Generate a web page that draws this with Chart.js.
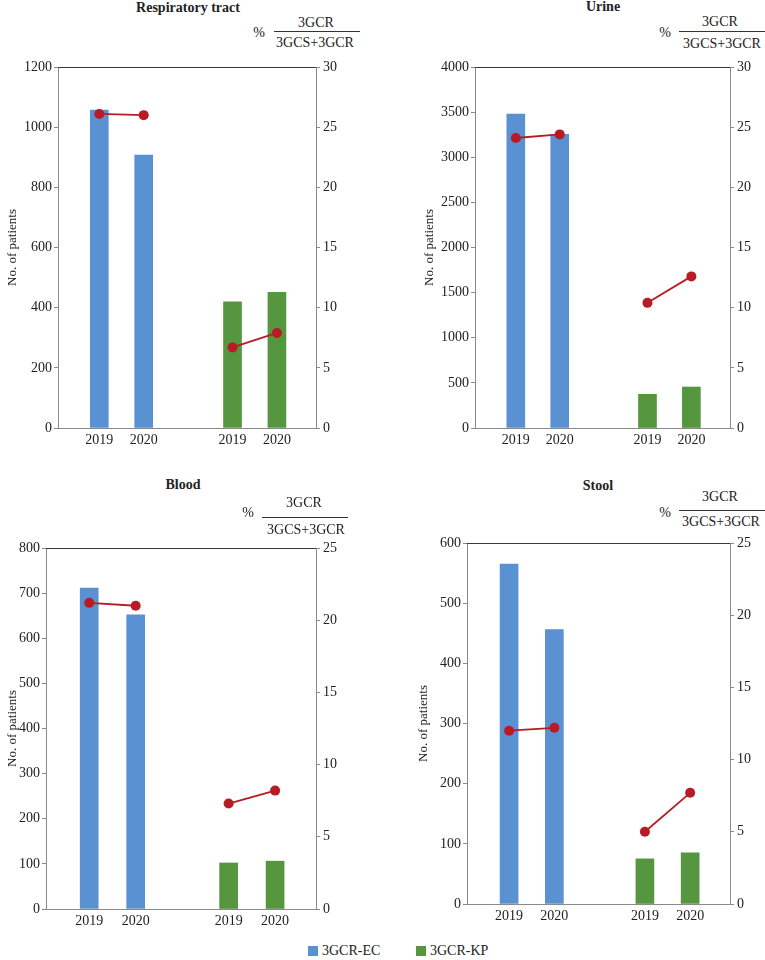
<!DOCTYPE html>
<html>
<head>
<meta charset="utf-8">
<script src="https://cdn.jsdelivr.net/npm/chart.js@4.4.0/dist/chart.umd.min.js"></script>
<style>
  body { margin: 0; background: #fff; }
  #fig { position: relative; width: 765px; height: 960px; font-family: 'Liberation Serif', 'Times New Roman', serif; color: #222; }
  #fig canvas { position: absolute; }
  .t { position: absolute; width: 200px; height: 16px; line-height: 16px; text-align: center; white-space: nowrap; font-size: 14px; }
  .title { font-weight: bold; }
  .rule { position: absolute; height: 0; border-top: 1px solid #333; }
  .key { position: absolute; top: 945px; font-size: 14px; line-height: 12px; }
  .key span { display: inline-block; width: 10px; height: 10px; margin-right: 4px; vertical-align: -1px; }
</style>
</head>
<body>
<div id="fig">
  <canvas id="c0"></canvas>
  <canvas id="c1"></canvas>
  <canvas id="c2"></canvas>
  <canvas id="c3"></canvas>
</div>
<script>
// data
const slots = ['2019', '2020', '', '2019', '2020'];   // x positions, gap in the middle
const series = ['3GCR-EC', '3GCR-KP'];
const titles = ['Respiratory tract', 'Urine', 'Blood', 'Stool'];

const respEC = [1057, 907];
const respKP = [419, 451];
const respPctEC = [26.1, 26.0];
const respPctKP = [6.7, 7.9];

const urineEC = [3479, 3254];
const urineKP = [373, 454];
const urinePctEC = [24.1, 24.4];
const urinePctKP = [10.4, 12.6];

const bloodEC = [711, 652];
const bloodKP = [102, 106];
const bloodPctEC = [21.2, 21.0];
const bloodPctKP = [7.3, 8.2];

const stoolEC = [565, 456];
const stoolKP = [75, 85];
const stoolPctEC = [12.0, 12.2];
const stoolPctKP = [5.0, 7.7];

const leftMax = [1200, 4000, 800, 600];
const leftStep = [200, 500, 100, 100];
const rightMax = [30, 30, 25, 25];

const ecVals = [respEC, urineEC, bloodEC, stoolEC];
const kpVals = [respKP, urineKP, bloodKP, stoolKP];
const ecPct = [respPctEC, urinePctEC, bloodPctEC, stoolPctEC];
const kpPct = [respPctKP, urinePctKP, bloodPctKP, stoolPctKP];

const BLUE = '#5a91d3';
const GREEN = '#55963f';
const RED = '#b71c25';
const AXIS = '#8a8a8a';
const SERIF = "'Liberation Serif', 'Times New Roman', serif";

// panel placement: canvas box, padding, axis sizes, text spots
const panels = [
  { x: 0,   y: 55,  w: 382, h: 400, padT: 12, padL: 1,  yw: 57, y2w: 66, xh: 27,
    title: [188, 8], pct: [259, 33], num: [316, 23], rule: [274, 360, 31], den: [315, 43] },
  { x: 382, y: 55,  w: 383, h: 400, padT: 12, padL: 36, yw: 57, y2w: 35, xh: 27,
    title: [603, 7], pct: [665, 33], num: [720, 22], rule: [679, 765, 31], den: [722, 44] },
  { x: 0,   y: 535, w: 382, h: 395, padT: 13, padL: 1,  yw: 45, y2w: 66, xh: 21,
    title: [183, 485], pct: [248, 513], num: [304, 503], rule: [262, 348, 517], den: [306, 530] },
  { x: 382, y: 530, w: 383, h: 400, padT: 13, padL: 30, yw: 55, y2w: 35, xh: 26,
    title: [598, 486], pct: [665, 513], num: [720, 497], rule: [679, 765, 510], den: [721, 522] }
];

Chart.defaults.font.family = SERIF;
Chart.defaults.font.size = 14;
Chart.defaults.color = '#222';

const fig = document.getElementById('fig');
function addText(txt, cx, cy, cls) {
  const d = document.createElement('div');
  d.className = 't' + (cls ? ' ' + cls : '');
  d.textContent = txt;
  d.style.left = (cx - 100) + 'px';
  d.style.top = (cy - 8) + 'px';
  fig.appendChild(d);
}

const topBorder = {
  id: 'topBorder',
  afterDraw(chart) {
    const a = chart.chartArea, ctx = chart.ctx;
    ctx.save();
    ctx.strokeStyle = '#3a3a3a';
    ctx.lineWidth = 1;
    ctx.beginPath();
    ctx.moveTo(a.left, Math.round(a.top) + 0.5);
    ctx.lineTo(a.right, Math.round(a.top) + 0.5);
    ctx.stroke();
    ctx.restore();
  }
};

const pts = (vals, off) => vals.map((v, j) => ({ x: off + j, y: v }));

function build() {
  panels.forEach((p, i) => {
    addText(titles[i], p.title[0], p.title[1], 'title');
    addText('%', p.pct[0], p.pct[1]);
    addText('3GCR', p.num[0], p.num[1]);
    addText('3GCS+3GCR', p.den[0], p.den[1]);
    const r = document.createElement('div');
    r.className = 'rule';
    r.style.left = p.rule[0] + 'px';
    r.style.width = (p.rule[1] - p.rule[0]) + 'px';
    r.style.top = p.rule[2] + 'px';
    fig.appendChild(r);

    const cv = document.getElementById('c' + i);
    cv.width = p.w; cv.height = p.h;
    cv.style.left = p.x + 'px'; cv.style.top = p.y + 'px';
    cv.style.width = p.w + 'px'; cv.style.height = p.h + 'px';

    new Chart(cv.getContext('2d'), {
      data: {
        datasets: [
          { type: 'bar', label: series[0], data: pts(ecVals[i], 0), backgroundColor: BLUE, yAxisID: 'y', order: 2 },
          { type: 'bar', label: series[1], data: pts(kpVals[i], 3), backgroundColor: GREEN, yAxisID: 'y', order: 2 },
          { type: 'line', data: pts(ecPct[i], 0), yAxisID: 'y1', borderColor: RED, backgroundColor: RED,
            borderWidth: 1.8, pointRadius: 5, pointBorderWidth: 0, order: 0 },
          { type: 'line', data: pts(kpPct[i], 3), yAxisID: 'y1', borderColor: RED, backgroundColor: RED,
            borderWidth: 1.8, pointRadius: 5, pointBorderWidth: 0, order: 0 }
        ]
      },
      options: {
        responsive: false,
        animation: false,
        devicePixelRatio: 1,
        layout: { padding: { top: p.padT, left: p.padL, right: 0, bottom: 0 } },
        datasets: { bar: { barThickness: 18, grouped: false } },
        plugins: { legend: { display: false }, tooltip: { enabled: false } },
        scales: {
          x: {
            type: 'linear', min: -0.93, max: 4.88, offset: false,
            afterBuildTicks: s => { s.ticks = [0, 1, 3, 4].map(v => ({ value: v })); },
            afterFit: s => { s.height = p.xh; },
            ticks: { padding: 4, callback: v => slots[v], font: { family: SERIF, size: 14 } },
            grid: { offset: false, drawOnChartArea: false, drawTicks: false },
            border: { color: AXIS }
          },
          y: {
            position: 'left', min: 0, max: leftMax[i],
            afterFit: s => { s.width = p.yw; },
            ticks: { stepSize: leftStep[i], padding: 2, callback: v => v, font: { family: SERIF, size: 14 } },
            grid: { drawOnChartArea: false, tickLength: 4, color: AXIS },
            border: { color: AXIS },
            title: { display: true, text: 'No. of patients', font: { family: SERIF, size: 13 }, padding: { top: 4, bottom: 0 } }
          },
          y1: {
            position: 'right', min: 0, max: rightMax[i],
            afterFit: s => { s.width = p.y2w; },
            ticks: { stepSize: 5, padding: 3, font: { family: SERIF, size: 14 } },
            grid: { drawOnChartArea: false, tickLength: 4, color: AXIS },
            border: { color: AXIS }
          }
        }
      },
      plugins: [topBorder]
    });
  });

  // legend at the bottom
  [[series[0], BLUE, 308], [series[1], GREEN, 416]].forEach(([txt, col, x]) => {
    const k = document.createElement('div');
    k.className = 'key';
    k.style.left = x + 'px';
    k.innerHTML = '<span style="background:' + col + '"></span>';
    k.appendChild(document.createTextNode(txt));
    fig.appendChild(k);
  });
}

document.fonts.load("14px 'Liberation Serif'").then(build, build);
</script>
</body>
</html>
